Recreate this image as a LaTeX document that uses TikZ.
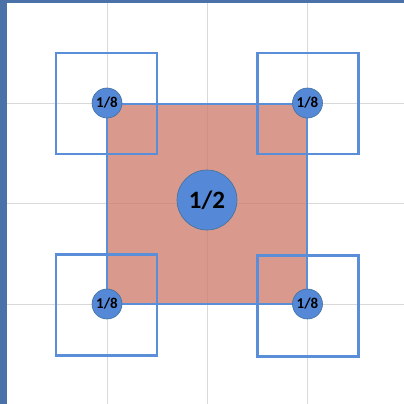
\documentclass[tikz,border=0pt]{standalone}
\usepackage{fontspec}
\setmainfont{Carlito}
\definecolor{barblue}{HTML}{4A72A8}
\definecolor{lineblue}{HTML}{5B8ED8}
\definecolor{dotblue}{HTML}{5588D6}
\definecolor{dotedge}{HTML}{41719C}
\definecolor{gridgray}{HTML}{D9D9D9}
\definecolor{sqred}{HTML}{D08070}
\tikzset{
  gridline/.style={draw=gridgray, line width=1pt},
  bigsq/.style={rectangle, draw=lineblue, line width=2pt, fill=sqred, fill opacity=0.8, draw opacity=1, minimum size=200pt, inner sep=0pt},
  outsq/.style={rectangle, draw=lineblue, line width=2.2pt, minimum size=101pt, inner sep=0pt},
  smalldot/.style={circle, draw=dotedge, line width=0.6pt, fill=dotblue, minimum size=30pt, inner sep=0pt, text=black, font=\bfseries\fontsize{15}{15}\selectfont},
  bigdot/.style={circle, draw=dotedge, line width=0.6pt, fill=dotblue, minimum size=60pt, inner sep=0pt, text=black, font=\bfseries\fontsize{25}{25}\selectfont},
}
\begin{document}
\begin{tikzpicture}[x=1pt, y=-1pt]
\useasboundingbox (0,0) rectangle (404,404);
\fill[white] (0,0) rectangle (404,404);
% grid
\foreach \g in {107,207,307} {
  \draw[gridline] (\g,0) -- (\g,404);
}
\foreach \g in {103,203,304} {
  \draw[gridline] (0,\g) -- (404,\g);
}
% frame bars
\fill[barblue] (0,0) rectangle (404,3);
\fill[barblue] (0,0) rectangle (6.5,404);
% central square
\node[bigsq] (center) at (207,203.5) {};
% outline squares
\node[outsq] (sqTL) at (106.5,103.5) {};
\node[outsq] (sqTR) at (308,103.5) {};
\node[outsq] (sqBL) at (106.5,305) {};
\node[outsq] (sqBR) at (308,306) {};
% dots
\node[smalldot] (dTL) at (107,103) {1/8};
\node[smalldot] (dTR) at (307.5,103) {1/8};
\node[smalldot] (dBL) at (107,304) {1/8};
\node[smalldot] (dBR) at (307.5,304) {1/8};
\node[bigdot] (dC) at (207,200) {1/2};
\end{tikzpicture}
\end{document}
